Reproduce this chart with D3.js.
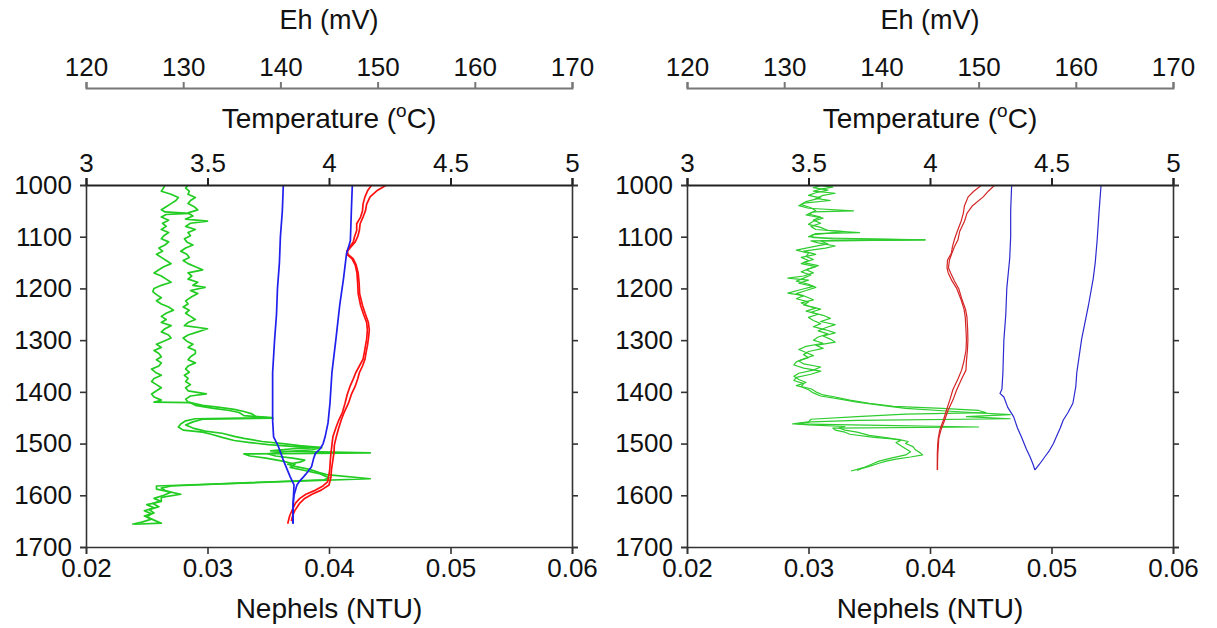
<!DOCTYPE html>
<html>
<head>
<meta charset="utf-8">
<script src="https://cdn.jsdelivr.net/npm/d3@7"></script>
<style>
  html, body { margin: 0; padding: 0; background: #fff; }
  svg { display: block; font-family: "Liberation Sans", Arial, Helvetica, sans-serif; }
</style>
</head>
<body>
<svg id="chart" width="1217" height="628"></svg>
<script>
// Axis ticks
const depthTicks = [1000, 1100, 1200, 1300, 1400, 1500, 1600, 1700];
const ehTicks = [120, 130, 140, 150, 160, 170];
const tempTicks = [3, 3.5, 4, 4.5, 5];
const nephTicks = [0.02, 0.03, 0.04, 0.05, 0.06];

// ---- Profile A: [depth (m), value] ----
// Nephelometer, two casts (NTU)
const nephA1 = [[1000,.0265],[1005,.0264],[1012,.0262],[1018,.0270],[1024,.0276],[1030,.0274],[1036,.0270],[1042,.0266],[1048,.0262],[1052,.0265],[1055,.0285],[1057,.0266],[1062,.0262],[1068,.0268],[1074,.0263],[1080,.0266],[1086,.0262],[1092,.0268],[1098,.0264],[1104,.0262],[1110,.0268],[1116,.0265],[1122,.0260],[1128,.0263],[1134,.0258],[1140,.0262],[1146,.0266],[1152,.0270],[1158,.0264],[1164,.0260],[1170,.0256],[1176,.0262],[1182,.0266],[1188,.0270],[1194,.0262],[1200,.0256],[1206,.0255],[1212,.0258],[1218,.0262],[1224,.0258],[1230,.0262],[1236,.0268],[1242,.0272],[1248,.0266],[1254,.0262],[1260,.0266],[1266,.0262],[1272,.0270],[1278,.0265],[1284,.0262],[1290,.0268],[1296,.0270],[1302,.0264],[1308,.0258],[1314,.0262],[1320,.0256],[1326,.0260],[1332,.0262],[1338,.0258],[1344,.0262],[1350,.0260],[1356,.0254],[1362,.0257],[1368,.0262],[1374,.0256],[1380,.0254],[1386,.0258],[1392,.0262],[1398,.0258],[1404,.0254],[1410,.0256],[1416,.0262],[1420,.0256],[1421,.0286],[1426,.0290],[1432,.0305],[1436,.0318],[1440,.0326],[1446,.0330],[1450,.0353],[1452,.0290],[1456,.0282],[1462,.0278],[1468,.0276],[1474,.0280],[1478,.0296],[1482,.0303],[1488,.0312],[1494,.0322],[1498,.0335],[1502,.0350],[1506,.0372],[1508,.0392],[1510,.0370],[1514,.0352],[1518,.0434],[1520,.0330],[1524,.0335],[1528,.0348],[1534,.0362],[1540,.0372],[1546,.0368],[1552,.0380],[1558,.0392],[1562,.0396],[1566,.0400],[1570,.0396],[1576,.0330],[1582,.0270],[1586,.0262],[1592,.0266],[1598,.0278],[1604,.0262],[1610,.0262],[1616,.0255],[1622,.0260],[1628,.0252],[1634,.0256],[1640,.0248],[1646,.0254],[1652,.0246],[1656,.0238]];
const nephA2 = [[1000,.0284],[1006,.0282],[1012,.0285],[1018,.0284],[1024,.0290],[1030,.0286],[1036,.0284],[1042,.0289],[1048,.0292],[1054,.0284],[1060,.0288],[1066,.0282],[1070,.0300],[1074,.0286],[1080,.0282],[1086,.0290],[1092,.0284],[1098,.0286],[1104,.0281],[1110,.0283],[1116,.0288],[1122,.0282],[1128,.0278],[1134,.0283],[1140,.0285],[1146,.0280],[1152,.0284],[1158,.0290],[1164,.0296],[1170,.0284],[1176,.0287],[1182,.0284],[1188,.0292],[1194,.0288],[1198,.0298],[1204,.0286],[1210,.0292],[1216,.0287],[1224,.0282],[1230,.0284],[1236,.0280],[1242,.0285],[1248,.0282],[1254,.0286],[1260,.0290],[1266,.0284],[1272,.0281],[1278,.0300],[1284,.0292],[1290,.0284],[1296,.0280],[1302,.0283],[1308,.0288],[1314,.0284],[1320,.0290],[1326,.0290],[1332,.0286],[1338,.0284],[1344,.0290],[1350,.0284],[1356,.0282],[1362,.0285],[1368,.0281],[1374,.0284],[1380,.0282],[1386,.0286],[1392,.0282],[1398,.0284],[1404,.0299],[1408,.0286],[1414,.0282],[1420,.0284],[1426,.0296],[1430,.0310],[1434,.0322],[1438,.0330],[1442,.0336],[1448,.0340],[1451,.0354],[1453,.0296],[1458,.0288],[1464,.0282],[1470,.0288],[1476,.0298],[1480,.0312],[1486,.0322],[1490,.0330],[1496,.0345],[1500,.0362],[1504,.0376],[1508,.0394],[1512,.0386],[1516,.0362],[1520,.0350],[1524,.0356],[1528,.0370],[1532,.0380],[1536,.0376],[1540,.0366],[1544,.0372],[1550,.0384],[1556,.0392],[1560,.0398],[1568,.0434],[1582,.0258],[1588,.0258],[1594,.0270],[1600,.0264],[1606,.0256],[1612,.0262],[1618,.0250],[1624,.0256],[1630,.0248],[1636,.0254],[1642,.0250],[1648,.0256],[1654,.0262],[1656,.0240]];
// Temperature, two casts (deg C)
const tempA1 = [[1000,4.176],[1010,4.160],[1023,4.148],[1037,4.140],[1050,4.138],[1062,4.130],[1075,4.114],[1088,4.114],[1100,4.105],[1110,4.100],[1120,4.085],[1128,4.073],[1134,4.074],[1143,4.095],[1155,4.108],[1170,4.115],[1190,4.118],[1210,4.120],[1233,4.130],[1250,4.142],[1266,4.155],[1280,4.158],[1298,4.155],[1311,4.150],[1325,4.145],[1337,4.140],[1350,4.125],[1363,4.110],[1375,4.100],[1390,4.086],[1405,4.075],[1422,4.066],[1440,4.055],[1455,4.040],[1470,4.028],[1487,4.016],[1503,4.012],[1519,4.008],[1535,4.005],[1551,4.003],[1565,3.998],[1574,3.994],[1582,3.975],[1590,3.945],[1598,3.905],[1606,3.880],[1615,3.862],[1629,3.848],[1640,3.838],[1655,3.830]];
const tempA2 = [[1000,4.237],[1010,4.200],[1023,4.169],[1037,4.155],[1050,4.150],[1062,4.140],[1075,4.128],[1088,4.125],[1100,4.118],[1110,4.108],[1120,4.090],[1128,4.076],[1134,4.078],[1143,4.100],[1155,4.112],[1170,4.120],[1190,4.124],[1210,4.126],[1233,4.138],[1250,4.150],[1266,4.162],[1280,4.166],[1298,4.162],[1311,4.158],[1325,4.152],[1337,4.148],[1350,4.138],[1363,4.125],[1375,4.118],[1390,4.107],[1405,4.092],[1422,4.080],[1440,4.062],[1455,4.050],[1470,4.040],[1487,4.030],[1503,4.022],[1519,4.020],[1535,4.015],[1551,4.010],[1565,4.008],[1580,4.000],[1590,3.968],[1598,3.930],[1606,3.900],[1615,3.880],[1629,3.860],[1640,3.850],[1650,3.845]];
// Eh, two casts (mV)
const ehA1 = [[1000,140.3],[1050,140.2],[1100,140.0],[1150,139.9],[1200,139.7],[1250,139.6],[1300,139.4],[1363,139.2],[1420,139.2],[1455,139.2],[1487,139.3],[1506,139.8],[1532,140.3],[1564,141.0],[1580,141.4],[1620,141.3],[1655,141.3]];
const ehA2 = [[1000,147.4],[1050,147.3],[1108,147.2],[1133,146.8],[1180,146.5],[1233,146.1],[1300,145.7],[1363,145.3],[1422,145.1],[1460,144.9],[1487,144.6],[1500,144.4],[1510,144.1],[1519,143.6],[1530,143.4],[1545,143.2],[1555,142.8],[1564,142.4],[1572,142.0],[1580,141.7],[1600,141.4],[1620,141.3],[1655,141.3]];

// ---- Profile B ----
const nephB1 = [[1000,.0306],[1004,.0320],[1008,.0310],[1012,.0304],[1016,.0322],[1020,.0312],[1026,.0306],[1030,.0318],[1035,.0296],[1040,.0292],[1045,.0300],[1050,.0337],[1052,.0304],[1058,.0298],[1064,.0312],[1070,.0304],[1076,.0300],[1082,.0310],[1088,.0316],[1092,.0342],[1094,.0306],[1098,.0302],[1102,.0304],[1106,.0396],[1108,.0302],[1112,.0308],[1118,.0322],[1122,.0314],[1128,.0296],[1134,.0306],[1140,.0294],[1146,.0300],[1152,.0294],[1158,.0306],[1164,.0298],[1170,.0304],[1176,.0296],[1180,.0283],[1184,.0300],[1190,.0292],[1196,.0304],[1202,.0294],[1209,.0283],[1214,.0296],[1220,.0290],[1226,.0300],[1232,.0296],[1238,.0306],[1244,.0298],[1250,.0308],[1256,.0300],[1262,.0304],[1268,.0310],[1274,.0304],[1280,.0314],[1286,.0322],[1292,.0312],[1298,.0318],[1304,.0322],[1310,.0306],[1316,.0312],[1322,.0300],[1328,.0296],[1334,.0300],[1340,.0292],[1346,.0296],[1352,.0310],[1358,.0304],[1364,.0292],[1370,.0288],[1376,.0292],[1382,.0298],[1388,.0290],[1394,.0302],[1400,.0306],[1406,.0312],[1410,.0322],[1416,.0334],[1422,.0350],[1428,.0370],[1432,.0410],[1436,.0440],[1440,.0446],[1443,.0380],[1448,.0340],[1453,.0302],[1458,.0300],[1462,.0287],[1465,.0360],[1468,.0440],[1470,.0320],[1474,.0322],[1478,.0330],[1482,.0334],[1488,.0354],[1492,.0374],[1496,.0382],[1500,.0380],[1506,.0386],[1512,.0388],[1518,.0392],[1522,.0394],[1526,.0384],[1530,.0372],[1534,.0364],[1538,.0358],[1544,.0350],[1548,.0344],[1552,.0340]];
const nephB2 = [[1000,.0312],[1005,.0304],[1010,.0316],[1015,.0306],[1020,.0300],[1025,.0310],[1032,.0298],[1038,.0294],[1044,.0302],[1050,.0306],[1056,.0300],[1062,.0310],[1068,.0304],[1074,.0310],[1080,.0302],[1086,.0306],[1090,.0330],[1096,.0304],[1100,.0300],[1104,.0320],[1106,.0396],[1108,.0310],[1114,.0316],[1120,.0302],[1126,.0290],[1132,.0300],[1138,.0298],[1144,.0304],[1150,.0296],[1156,.0308],[1162,.0300],[1168,.0294],[1174,.0302],[1180,.0296],[1186,.0290],[1192,.0300],[1198,.0306],[1204,.0298],[1210,.0290],[1216,.0298],[1222,.0304],[1228,.0294],[1234,.0300],[1240,.0310],[1246,.0302],[1252,.0312],[1258,.0318],[1264,.0310],[1270,.0322],[1276,.0314],[1282,.0308],[1288,.0316],[1294,.0308],[1300,.0304],[1306,.0312],[1312,.0298],[1318,.0292],[1324,.0298],[1330,.0304],[1336,.0296],[1342,.0290],[1348,.0288],[1354,.0296],[1360,.0310],[1366,.0302],[1372,.0290],[1378,.0288],[1384,.0296],[1390,.0294],[1396,.0300],[1402,.0304],[1408,.0310],[1414,.0326],[1420,.0340],[1426,.0360],[1432,.0380],[1438,.0420],[1444,.0466],[1448,.0430],[1452,.0466],[1455,.0340],[1458,.0302],[1462,.0290],[1464,.0300],[1467,.0330],[1470,.0325],[1474,.0330],[1478,.0340],[1484,.0350],[1490,.0368],[1494,.0376],[1498,.0372],[1504,.0376],[1510,.0380],[1516,.0384],[1522,.0380],[1528,.0368],[1534,.0358],[1540,.0352],[1546,.0346],[1550,.0340],[1553,.0335]];
const tempB1 = [[1000,4.213],[1012,4.180],[1023,4.157],[1040,4.142],[1055,4.137],[1070,4.128],[1090,4.112],[1106,4.100],[1120,4.092],[1132,4.088],[1145,4.072],[1160,4.070],[1170,4.075],[1185,4.090],[1200,4.110],[1222,4.128],[1240,4.140],[1255,4.145],[1280,4.148],[1300,4.150],[1320,4.148],[1340,4.140],[1358,4.130],[1375,4.115],[1396,4.094],[1415,4.082],[1435,4.068],[1455,4.055],[1474,4.040],[1490,4.034],[1500,4.032],[1520,4.030],[1540,4.030],[1551,4.030]];
const tempB2 = [[1000,4.267],[1012,4.240],[1023,4.219],[1040,4.175],[1055,4.152],[1070,4.142],[1090,4.122],[1106,4.115],[1120,4.100],[1132,4.090],[1145,4.080],[1160,4.076],[1170,4.085],[1185,4.100],[1200,4.118],[1222,4.132],[1240,4.146],[1255,4.152],[1280,4.155],[1300,4.156],[1320,4.154],[1340,4.150],[1358,4.148],[1375,4.130],[1396,4.110],[1415,4.095],[1435,4.075],[1455,4.060],[1474,4.045],[1490,4.036],[1500,4.035],[1520,4.032],[1540,4.031],[1551,4.031]];
const ehB1 = [[1000,153.4],[1050,153.3],[1100,153.3],[1142,153.2],[1200,152.9],[1250,152.8],[1300,152.6],[1363,152.5],[1395,152.4],[1403,152.2],[1410,152.6],[1430,153.0],[1448,153.6],[1470,154.0],[1487,154.4],[1510,154.9],[1526,155.3],[1540,155.6],[1551,155.8]];
const ehB2 = [[1000,162.6],[1050,162.4],[1106,162.2],[1150,162.0],[1180,161.8],[1233,161.3],[1298,160.6],[1363,160.1],[1390,160.0],[1422,159.7],[1440,159.2],[1455,158.7],[1470,158.4],[1487,158.0],[1500,157.7],[1513,157.3],[1526,156.8],[1539,156.3],[1551,155.8]];

const svg = d3.select("#chart");
const TICK_FONT = 26, TITLE_FONT = 28;
const plotTop = 185, plotBottom = 547;

const panels = [
  { x0: 86, x1: 572, neph: [nephA1, nephA2], temp: [tempA1, tempA2], eh: [ehA1, ehA2],
    colors: { neph: "#22cc22", temp: "#ff1010", eh: "#1f1fee" }, width: 1.7 },
  { x0: 687, x1: 1173, neph: [nephB1, nephB2], temp: [tempB1, tempB2], eh: [ehB1, ehB2],
    colors: { neph: "#2ecc2e", temp: "#d42424", eh: "#2a2ad0" }, width: 1.2 }
];

const y = d3.scaleLinear().domain([1000, 1700]).range([plotTop, plotBottom]);

function styleAxis(g, color, width) {
  g.select(".domain").attr("stroke", color).attr("stroke-width", width);
  g.selectAll(".tick line").attr("stroke", color).attr("stroke-width", width);
  g.selectAll(".tick text").attr("fill", "#111").attr("font-size", TICK_FONT)
    .attr("font-family", "'Liberation Sans', Arial, sans-serif");
}

panels.forEach(p => {
  const xEh = d3.scaleLinear().domain([120, 170]).range([p.x0, p.x1]);
  const xT = d3.scaleLinear().domain([3, 5]).range([p.x0, p.x1]);
  const xN = d3.scaleLinear().domain([0.02, 0.06]).range([p.x0, p.x1]);
  const cx = (p.x0 + p.x1) / 2;
  const g = svg.append("g");

  // data traces, clipped to plot box
  const clipId = "clip" + p.x0;
  svg.append("clipPath").attr("id", clipId).append("rect")
    .attr("x", p.x0).attr("y", plotTop).attr("width", p.x1 - p.x0).attr("height", plotBottom - plotTop);
  const lines = g.append("g").attr("clip-path", `url(#${clipId})`);
  const draw = (series, xs, color) => series.forEach(s => {
    lines.append("path").datum(s)
      .attr("fill", "none").attr("stroke", color).attr("stroke-width", p.width)
      .attr("stroke-linejoin", "round")
      .attr("d", d3.line().x(d => xs(d[1])).y(d => y(d[0])));
  });
  draw(p.neph, xN, p.colors.neph);
  draw(p.temp, xT, p.colors.temp);
  draw(p.eh, xEh, p.colors.eh);

  // Eh axis (floating above)
  const ehAxis = g.append("g").attr("transform", "translate(0,88)")
    .call(d3.axisTop(xEh).tickValues(ehTicks).tickSize(6).tickPadding(6).tickFormat(d3.format("d")));
  styleAxis(ehAxis, "#777", 2);
  g.append("text").attr("x", cx).attr("y", 29).attr("text-anchor", "middle")
    .attr("font-size", 27).attr("fill", "#111").text("Eh (mV)");

  // Temperature axis on top border
  const tAxis = g.append("g").attr("transform", `translate(0,${plotTop})`)
    .call(d3.axisTop(xT).tickValues(tempTicks).tickSize(7).tickPadding(6).tickFormat(d => String(d)));
  styleAxis(tAxis, "#222", 2);
  const tt = g.append("text").attr("x", cx).attr("y", 128).attr("text-anchor", "middle")
    .attr("font-size", TITLE_FONT).attr("fill", "#111");
  tt.append("tspan").text("Temperature (");
  tt.append("tspan").attr("font-size", 19).attr("dy", -11).text("o");
  tt.append("tspan").attr("dy", 11).text("C)");

  // Nephels axis on bottom border
  const nAxis = g.append("g").attr("transform", `translate(0,${plotBottom})`)
    .call(d3.axisBottom(xN).tickValues(nephTicks).tickSize(7).tickPadding(5).tickFormat(d3.format(".2f")));
  styleAxis(nAxis, "#333", 1.6);
  g.append("text").attr("x", cx).attr("y", 618).attr("text-anchor", "middle")
    .attr("font-size", TITLE_FONT).attr("fill", "#111").text("Nephels (NTU)");

  // Depth axes
  const lAxis = g.append("g").attr("transform", `translate(${p.x0},0)`)
    .call(d3.axisLeft(y).tickValues(depthTicks).tickSize(6).tickPadding(8).tickFormat(d3.format("d")));
  styleAxis(lAxis, "#333", 1.6);
  const rAxis = g.append("g").attr("transform", `translate(${p.x1},0)`)
    .call(d3.axisRight(y).tickValues(depthTicks).tickSize(6).tickFormat(""));
  styleAxis(rAxis, "#333", 1.6);
});
</script>
</body>
</html>
